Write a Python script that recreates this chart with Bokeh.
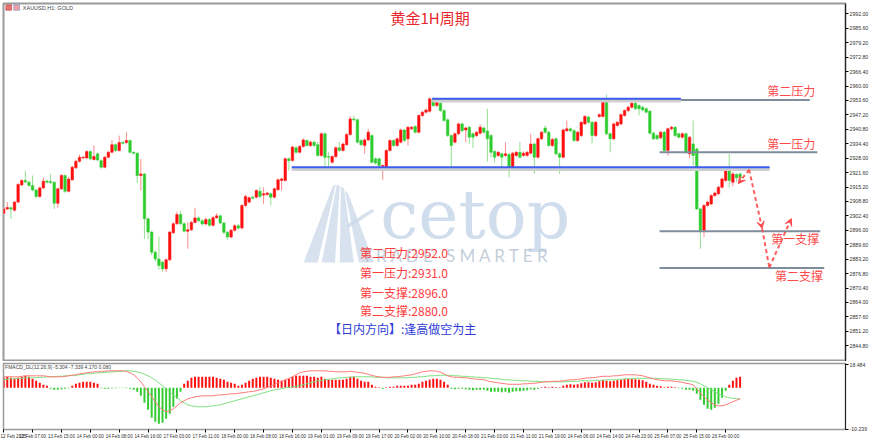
from bokeh.plotting import figure
from bokeh.layouts import column
from bokeh.models import (ColumnDataSource, FixedTicker, Range1d, Label, Arrow,
                          VeeHead, PrintfTickFormatter)
from bokeh.embed import file_html
from bokeh.resources import INLINE

# ---------------- data (XAUUSD H1) ----------------
opens = [2903.6,2905.5,2906.0,2904.9,2908.5,2916.1,2918.1,2917.3,2915.9,2913.9,
2911.0,2914.8,2917.8,2917.6,2917.3,2908.0,2914.4,2920.3,2913.3,2918.4,
2923.7,2926.6,2928.1,2928.1,2930.9,2927.4,2929.9,2926.9,2924.0,2928.4,
2930.6,2934.0,2931.4,2934.9,2934.9,2935.8,2930.6,2930.2,2920.3,2921.0,
2901.1,2895.2,2886.3,2883.3,2881.8,2878.9,2882.9,2894.9,2898.9,2903.0,
2898.9,2895.6,2896.2,2899.5,2901.5,2900.2,2898.8,2900.8,2898.2,2901.6,
2902.4,2899.2,2895.1,2893.0,2896.0,2898.0,2897.0,2907.0,2908.5,2910.7,
2910.7,2913.3,2911.6,2911.9,2912.2,2910.7,2914.0,2918.1,2918.1,2927.7,
2927.0,2932.6,2930.6,2933.2,2935.8,2933.6,2935.1,2934.0,2929.2,2938.8,
2928.7,2926.2,2928.7,2932.6,2931.4,2934.0,2938.5,2945.4,2945.0,2935.8,
2933.6,2936.1,2938.0,2927.7,2927.7,2924.0,2923.7,2931.4,2935.8,2933.6,
2935.1,2940.5,2936.6,2941.0,2942.0,2939.5,2946.9,2948.4,2948.8,2954.3,
2951.3,2952.4,2949.1,2945.0,2938.0,2935.1,2938.8,2943.2,2940.5,2941.7,
2938.8,2938.0,2939.1,2941.4,2940.0,2938.0,2931.0,2929.2,2929.9,2929.2,
2929.6,2923.3,2929.2,2930.6,2929.2,2929.2,2930.2,2934.3,2928.4,2936.6,
2941.4,2939.5,2933.6,2936.6,2929.9,2928.4,2940.2,2941.0,2940.2,2935.8,
2938.0,2943.2,2946.2,2943.9,2938.0,2946.5,2946.5,2953.8,2938.8,2936.6,
2942.5,2943.2,2946.9,2949.1,2950.6,2952.4,2951.3,2950.6,2949.9,2948.8,
2939.1,2938.0,2937.0,2939.5,2931.4,2941.0,2941.7,2938.8,2937.3,2938.8,
2929.9,2934.3,2932.1,2905.5,2895.9,2907.0,2907.7,2911.4,2912.2,2915.1,
2918.1,2923.7,2917.3,2920.7,2921.0]
highs = [2906.3,2908.5,2906.6,2909.0,2917.0,2918.6,2922.5,2918.0,2920.3,2914.4,
2915.5,2919.5,2918.5,2921.0,2917.8,2915.0,2921.0,2920.8,2919.8,2924.6,
2927.3,2929.6,2929.0,2931.5,2931.4,2933.6,2930.5,2927.4,2929.0,2931.3,
2936.0,2934.6,2938.0,2935.5,2939.5,2936.3,2931.0,2930.6,2927.7,2921.5,
2901.6,2895.8,2887.0,2893.2,2882.5,2883.5,2895.8,2899.6,2904.3,2904.6,
2899.5,2899.5,2900.2,2906.0,2902.2,2900.9,2901.6,2901.4,2902.3,2903.6,
2903.0,2899.8,2895.7,2896.6,2898.7,2898.8,2907.6,2911.8,2911.0,2911.3,
2914.2,2915.3,2915.1,2913.1,2912.8,2915.0,2919.0,2919.4,2928.3,2928.4,
2933.5,2933.2,2933.8,2936.8,2936.4,2935.8,2935.7,2935.2,2939.5,2939.4,
2930.6,2929.3,2933.2,2935.1,2934.9,2939.1,2946.6,2946.9,2945.6,2936.4,
2936.8,2941.0,2938.6,2928.3,2928.2,2925.3,2932.0,2936.4,2936.3,2937.2,
2941.1,2941.0,2942.3,2942.3,2942.6,2947.5,2949.0,2950.0,2954.9,2954.9,
2954.5,2953.0,2949.7,2945.6,2938.6,2939.4,2943.8,2943.8,2942.0,2942.3,
2939.4,2940.1,2943.0,2942.0,2949.9,2938.6,2931.6,2931.2,2930.5,2935.0,
2930.2,2930.8,2931.2,2935.1,2931.0,2931.2,2938.8,2934.9,2937.2,2940.1,
2942.5,2940.1,2937.0,2937.2,2930.5,2941.1,2944.7,2941.6,2940.8,2940.1,
2944.5,2947.1,2946.8,2944.5,2944.5,2947.9,2954.4,2956.2,2939.4,2943.8,
2944.5,2947.9,2949.7,2951.2,2953.0,2953.0,2951.9,2951.2,2950.5,2949.4,
2939.7,2938.6,2940.1,2940.1,2941.6,2942.3,2942.3,2939.4,2939.4,2939.4,
2937.9,2944.7,2932.7,2906.1,2907.6,2909.1,2912.0,2913.1,2915.7,2919.4,
2924.3,2929.9,2922.0,2921.3,2921.6]
lows = [2902.8,2904.9,2901.0,2904.3,2908.0,2915.6,2916.9,2915.3,2913.3,2910.2,
2910.4,2914.3,2916.8,2916.5,2905.5,2906.0,2913.8,2912.5,2912.8,2917.9,
2923.2,2926.0,2927.6,2927.5,2927.1,2926.9,2926.6,2923.3,2923.5,2927.9,
2930.1,2930.8,2930.9,2934.0,2934.4,2930.0,2929.6,2917.0,2913.6,2892.2,
2892.0,2885.0,2882.0,2878.5,2877.6,2877.5,2882.4,2894.4,2898.4,2898.3,
2895.0,2887.8,2895.7,2899.0,2899.6,2898.0,2898.2,2897.5,2897.6,2901.0,
2898.6,2894.4,2891.8,2892.4,2895.4,2896.2,2896.4,2906.4,2907.9,2909.7,
2910.1,2910.4,2907.7,2911.3,2907.0,2910.1,2913.5,2913.6,2917.6,2922.5,
2926.4,2930.0,2930.0,2932.6,2933.0,2933.0,2933.0,2928.6,2928.6,2923.7,
2924.0,2925.6,2928.1,2930.8,2930.8,2933.4,2938.0,2944.3,2934.5,2933.4,
2930.0,2935.5,2925.6,2925.2,2923.3,2918.4,2923.2,2930.9,2933.0,2933.0,
2934.5,2935.2,2933.6,2940.4,2938.9,2938.9,2946.3,2947.8,2948.2,2950.7,
2950.7,2948.5,2944.1,2937.4,2923.7,2934.5,2938.2,2939.6,2935.0,2934.3,
2932.5,2937.4,2938.5,2938.9,2926.5,2928.4,2926.2,2928.6,2923.3,2928.6,
2919.5,2922.7,2928.6,2927.8,2928.6,2928.6,2929.6,2921.0,2927.8,2936.0,
2938.9,2933.0,2933.0,2929.3,2921.0,2927.8,2939.6,2939.6,2935.2,2935.2,
2937.4,2942.6,2943.3,2934.5,2937.4,2945.9,2945.9,2938.2,2930.6,2936.0,
2941.9,2942.6,2946.3,2948.5,2950.0,2949.3,2947.0,2948.8,2947.8,2938.5,
2936.0,2936.0,2936.4,2930.8,2929.0,2940.4,2937.4,2936.7,2936.7,2930.0,
2928.0,2924.7,2905.0,2887.8,2893.0,2906.4,2907.1,2910.8,2911.6,2914.5,
2917.5,2915.0,2915.5,2917.5,2918.7]
closes = [2905.5,2906.1,2905.4,2908.5,2916.3,2918.1,2917.4,2915.9,2913.9,2911.0,
2914.8,2917.8,2917.3,2917.2,2908.0,2914.4,2920.3,2913.3,2918.7,2924.0,
2926.6,2928.4,2928.4,2930.9,2927.7,2928.7,2927.2,2924.0,2928.4,2930.6,
2934.0,2931.4,2934.9,2934.6,2935.8,2930.6,2930.2,2920.3,2921.0,2901.1,
2895.2,2886.3,2883.3,2880.4,2878.9,2882.9,2895.2,2898.9,2903.0,2898.9,
2895.6,2896.2,2899.5,2901.5,2900.2,2898.8,2900.8,2898.2,2901.6,2902.4,
2899.2,2895.1,2893.0,2896.0,2898.0,2897.0,2907.0,2911.0,2910.4,2910.2,
2913.6,2911.0,2912.2,2912.5,2910.7,2914.4,2918.4,2918.8,2927.7,2926.9,
2932.9,2930.6,2933.2,2936.1,2933.6,2935.1,2933.6,2929.2,2938.8,2928.4,
2928.4,2928.7,2932.6,2931.4,2934.3,2938.5,2945.4,2945.0,2935.1,2934.0,
2936.1,2939.5,2926.2,2925.8,2924.7,2924.7,2931.4,2935.8,2933.6,2936.6,
2940.5,2935.8,2941.7,2941.7,2939.5,2946.9,2948.4,2949.4,2954.3,2951.3,
2952.8,2949.1,2944.7,2938.0,2933.6,2938.8,2943.2,2940.2,2941.4,2937.3,
2937.3,2939.5,2941.7,2939.5,2936.6,2930.6,2928.4,2930.6,2928.4,2929.9,
2922.8,2930.2,2930.6,2928.4,2930.2,2930.6,2934.3,2928.4,2936.6,2939.5,
2939.5,2933.6,2936.3,2929.9,2928.4,2940.5,2941.0,2940.2,2935.8,2939.5,
2943.9,2946.5,2943.9,2938.0,2943.9,2947.3,2953.8,2938.8,2936.6,2943.2,
2943.9,2947.3,2949.1,2950.6,2952.4,2949.9,2949.9,2949.4,2948.4,2939.1,
2936.6,2936.6,2939.5,2931.4,2941.0,2941.7,2938.0,2937.3,2938.8,2930.6,
2937.3,2929.2,2905.5,2895.9,2907.0,2908.5,2911.4,2912.5,2915.1,2918.8,
2923.7,2918.1,2921.0,2919.3,2919.3]

# MACD panel values (histogram, fast line, slow line)
macd_hist = [10,11,10,9,10,11,12,11, 9,7,5,3,2, -1,-2,-2,-1.5,-1,-0.5,
2,4,5,6,6,6,5,4, -0.5,-1,-1,-0.5,-0.5,-0.3,-0.3,-0.5,-1,-2,
-4,-8,-15,-22,-30,-34,-36,-35,-31,-26,-19,-11,-4,
4,7,10,11,11,11,11,11,11,10,9,8,6,5,4,2,
3,5,7,9,10,11,11,11,10,9,8,7,8,9,11,12,12,
12,12,11,11,10,11,9,8,8,8,8,
8,9,11,11,9,7,6,6,3,1,0.5,-1,0.5,1,1,2,2,2,2,3,3,4,
6,7,8,9,9,8,6,3,
-1,-1.5,-1,-1,-1.5,-2,-2.5,-2,-2,-2,-3,-4,-4,-4,-4.5,-4,-5,-4,-3.5,-3.5,-3,-2.5,-1.5,-2,-1,0.5,1,0.5,
1,0.5,0.5,2,3,3.5,3,3.5,4.5,5.5,5.5,5,5.5,6.5,8,7,6.5,7,7.5,8,8.5,9,9,8.5,8,7.5,6,4,
3,2,1.5,0.5,1,1,0.5,-0.5,-1,-2,-2,-3,
-6,-12,-17,-21,-22,-20,-16,-10,
-3,3,7,10,11]
macd_fast = [11,11,11,11,11,11.5,12,12,12,12,
12,12,11.5,11,11,11,11,11.5,12,12.5,13,14,14.5,
15,15.5,16,16,16.5,16.5,17,17,17,17,17,16.5,15,
13,10,6,1,-4,-9,-14,-19,-22,-24,-23,-21,-18,-15,
-13,-11,-10,-9,-8.5,-8,-8,-8,-8,-7.5,-7,-7,-6.5,-6,-6,-5.5,
-5,-4.5,-4,-3.5,-3,-2,-1,0.5,2,3.5,5,6.5,8,9.5,11,13,15,
16,16.5,17,17,17,17,17,16.5,16.5,16,16,16,16,16.5,16,15.5,15,14.5,13.5,12.5,11.5,11,10.5,10.5,10.5,11,11,11.5,
12,12.5,13,14,15,16,16.5,17,17,16.5,15.5,14,12,
11,10.5,10.5,10,10,9.5,9,8.5,8.5,8,7,6,5.5,5,4.5,4,3.5,3.5,3.5,3.5,4,4,4.5,4.5,5,5.5,6,6,
6.5,6.5,6.5,7,7.5,8,8,8.5,9,9.5,10,10,10.5,11,11.5,11.5,11.5,12,12,12.5,13,13,13,13,12.5,12,11,10,
9,8,7.5,7,7,7,6.5,6,5.5,4.5,4,3,
-1,-5,-9,-12,-15,-17,-18,-18,-17,-15.5,-14,-12.5,-11]
macd_slow = [8,8.5,9,9,9.5,9.5,10,10,10,10,
10.5,10.5,11,11,11,11.5,11.5,12,12,12.5,12.5,13,13.5,
14,14,14.5,15,15,15.5,15.5,16,16,16.5,16.5,17,17,
16.5,16,15,13.5,12,10,7.5,5,2,-1,-4,-7,-10,-13,
-15,-17,-18,-18.5,-19,-19,-19,-18.5,-18,-17.5,-17,-16,-15,-14,-13,-12,
-11,-10,-9,-8,-7,-6,-5,-4,-3,-2,-1.5,-1,0,0.5,1,1.5,2,
3,4,5,6,7,7.5,8,8.5,9,9.5,10,10,10.5,10.5,11,11,11,11,11,11,10.5,10.5,10.5,10,10,10,10,10,
10,10,10.5,10.5,11,11,11.5,12,12,12.5,12.5,12.5,12.5,
12.5,12,12,11.5,11.5,11,11,10.5,10.5,10,10,9.5,9,9,8.5,8,8,7.5,7.5,7,7,7,6.5,6.5,6.5,6,6,6,
6,6,6,6,6,6.5,6.5,6.5,7,7,7,7,7.5,7.5,7.5,8,8,8,8.5,8.5,9,9,9,9.5,9.5,9.5,9.5,9.5,
9.5,9.5,9,9,9,8.5,8.5,8,8,7.5,7,6.5,
5.5,4,2,0,-2,-4,-6,-7.5,-9,-10,-10.5,-11,-11]

# axes
price_ticks = [2992.0,2985.6,2979.2,2972.8,2966.4,2960.0,2953.6,2947.2,2940.8,2934.4,
               2928.0,2921.6,2915.2,2908.8,2902.4,2896.0,2889.6,2883.2,2876.8,2870.4,
               2864.0,2857.6,2851.2,2844.8]
time_tick_bars = [1+8*k for k in range(26)]
time_labels = ["12 Feb 2025","13 Feb 07:00","13 Feb 15:00","14 Feb 00:00","14 Feb 08:00",
               "14 Feb 16:00","17 Feb 03:00","17 Feb 11:00","18 Feb 00:00","18 Feb 08:00",
               "18 Feb 16:00","19 Feb 01:00","19 Feb 09:00","19 Feb 17:00","20 Feb 02:00",
               "20 Feb 10:00","20 Feb 18:00","21 Feb 03:00","21 Feb 11:00","21 Feb 19:00",
               "24 Feb 06:00","24 Feb 14:00","24 Feb 23:00","25 Feb 07:00","25 Feb 15:00",
               "26 Feb 00:00"]
macd_tick_pos = [23.3, -41.3]
macd_tick_labels = ["18.484", "-10.239"]

# drawn levels (price, from bar, to bar)
gray_levels = [2953.8, 2930.6, 2895.6, 2879.3]
gray_x0 = [119.7, 182.7, 182.7, 182.7]
gray_x1 = [224.3, 226.4, 227.2, 228.3]
blue_levels = [2954.3, 2924.0]
blue_x0 = [119.7, 80.8]
blue_x1 = [188.6, 213.2]
level_names = ["第二压力", "第一压力", "第一支撑", "第二支撑"]
level_label_x = [212.5, 212.5, 213.6, 214.7]
level_label_y = [2958.0, 2934.6, 2892.3, 2876.0]

# forecast path (bar, price)
path_x = [204.5, 207.5, 211.1, 213.1, 219.2]
path_y = [2916.7, 2922.9, 2896.8, 2879.5, 2901.2]

summary_lines = ["第二压力:2952.0", "第一压力:2931.0", "第一支撑:2896.0", "第二支撑:2880.0"]
summary_y = [2886.1, 2877.4, 2868.5, 2860.4]
direction_text = "【日内方向】:逢高做空为主"

RED = "#ff1010"
GREEN = "#2fcc2f"
FONT_CJK = "Noto Sans CJK SC"
NB = "\u00a0"

n = len(closes)
xs = list(range(1, n + 1))
is_up = [c >= o for o, c in zip(opens, closes)]
src = ColumnDataSource(dict(
    x=xs,
    top=[max(o, c) for o, c in zip(opens, closes)],
    bottom=[min(o, c) for o, c in zip(opens, closes)],
    high=highs, low=lows,
    color=[RED if u else GREEN for u in is_up],
    wick=["#ff8c8c" if u else "#92e092" for u in is_up],
))

xr = Range1d(0.95, 234.2)

p = figure(frame_width=842, frame_height=358, x_range=xr, y_range=Range1d(2837.8, 2996.6),
           output_backend="svg", toolbar_location=None, y_axis_location="right",
           x_axis_location=None, min_border_left=3, min_border_top=3,
           min_border_bottom=0, min_border_right=0)
p.grid.visible = False
p.outline_line_color = "#9a9a9a"
p.outline_line_width = 2
p.background_fill_color = "white"
ya = p.yaxis[0]
ya.ticker = FixedTicker(ticks=price_ticks)
ya.formatter = PrintfTickFormatter(format="%.2f")
ya.major_label_text_font_size = "5.2px"
ya.major_label_text_font = "Liberation Sans"
ya.major_label_text_color = "#333333"
ya.major_tick_out = 3
ya.major_tick_in = 0
ya.minor_tick_out = 0
ya.minor_tick_in = 0
ya.axis_line_color = "#222222"
ya.major_label_standoff = 1

# watermark logo stripes (decorative)
logo_xs = [[92.2, 93.0, 88.0, 84.1], [93.3, 94.1, 92.8, 89.1],
           [94.4, 95.3, 98.0, 94.1], [95.5, 96.4, 103.6, 99.4],
           [96.0, 103.0, 103.8, 96.6]]
logo_ys = [[2915.8, 2916.3, 2881.7, 2881.7], [2916.3, 2915.8, 2881.7, 2881.7],
           [2915.4, 2914.5, 2881.7, 2881.7], [2913.6, 2912.3, 2881.7, 2881.7],
           [2898.5, 2905.5, 2904.5, 2897.0]]
p.patches(logo_xs, logo_ys, fill_color="#c9d8e8", line_color=None, fill_alpha=0.75)
p.add_layout(Label(x=105.3, y=2903.0, text="cetop", text_font="DejaVu Serif",
                   text_font_size="68px", text_color="#c4d5e9", text_alpha=0.8,
                   text_baseline="middle"))
p.add_layout(Label(x=100.3, y=2884.8, text=NB.join("TRADE") + NB * 3 + NB.join("SMARTER"),
                   text_font="Lato", text_font_size="17px", text_color="#b8c5d3",
                   text_alpha=0.85, text_baseline="middle"))

# candles
p.segment(x0="x", y0="low", x1="x", y1="high", source=src, line_color="wick", line_width=1)
p.vbar(x="x", width=0.7, top="top", bottom="bottom", source=src,
       fill_color="color", line_color="color", line_width=0.5)

# level lines
p.segment(x0=gray_x0, y0=gray_levels, x1=gray_x1, y1=gray_levels,
          line_color="#7f8c9c", line_width=2)
p.segment(x0=blue_x0, y0=[v - 1.0 for v in blue_levels], x1=blue_x1,
          y1=[v - 1.0 for v in blue_levels], line_color="#cfcfcf", line_width=3)
p.segment(x0=blue_x0, y0=blue_levels, x1=blue_x1, y1=blue_levels,
          line_color="#3f5cf0", line_width=2)

for name, lx, ly in zip(level_names, level_label_x, level_label_y):
    p.add_layout(Label(x=lx, y=ly, text=name, text_font=FONT_CJK, text_font_size="12px",
                       text_color="#ff4a4a", text_baseline="middle"))

# forecast arrows
dash_col = "#ff4d4d"
segs = [(1, 0, True), (1, 2, True), (2, 3, False), (3, 4, True)]
for a, b, head in segs:
    kw = dict(end=VeeHead(size=7, fill_color=dash_col, line_color=dash_col)) if head else dict(end=None)
    p.add_layout(Arrow(x_start=path_x[a], y_start=path_y[a], x_end=path_x[b], y_end=path_y[b],
                       line_color=dash_col, line_width=2, line_dash="4 3", line_alpha=0.9, **kw))

# title and notes
p.add_layout(Label(x=119.1, y=2990.4, text="黄金1H周期", text_font=FONT_CJK,
                   text_font_size="15px", text_color="#e8262b", text_align="center",
                   text_baseline="middle"))
for t, ty in zip(summary_lines, summary_y):
    p.add_layout(Label(x=99.7, y=ty, text=t, text_font=FONT_CJK, text_font_size="12px",
                       text_color="#ff3b3b", text_baseline="middle"))
p.add_layout(Label(x=91.1, y=2852.6, text=direction_text, text_font=FONT_CJK,
                   text_font_size="12px", text_color="#2e3bd6", text_baseline="middle"))

# chart header (symbol)
p.add_layout(Label(x=6.3, y=2994.8, text="XAUUSD,H1:  GOLD", text_font="Liberation Sans",
                   text_font_size="5.5px", text_color="#444444", text_baseline="middle"))
p.rect(x=[2.4, 4.6], y=[2994.8, 2994.8], width=1.6, height=2.4,
       fill_color=["#e57373", "#f2a0a0"], line_color=["#c04040", "#6f8fcf"], line_width=0.6)

# ---------------- MACD panel ----------------
m = figure(frame_width=842, frame_height=66, x_range=xr, y_range=Range1d(-41.7, 24.3),
           output_backend="svg", toolbar_location=None, y_axis_location="right",
           min_border_left=3, min_border_top=2, min_border_bottom=0, min_border_right=0)
m.grid.visible = False
m.outline_line_color = "#9a9a9a"
m.outline_line_width = 1.5
mx = m.xaxis[0]
mx.ticker = FixedTicker(ticks=time_tick_bars)
mx.major_label_overrides = {t: l for t, l in zip(time_tick_bars, time_labels)}
mx.major_label_text_font_size = "4.6px"
mx.major_label_text_font = "Liberation Sans"
mx.major_label_text_align = "left"
mx.major_label_text_color = "#333333"
mx.major_tick_out = 3
mx.major_tick_in = 0
mx.minor_tick_out = 0
mx.minor_tick_in = 0
mx.axis_line_color = "#9a9a9a"
mx.major_label_standoff = 1
my = m.yaxis[0]
my.ticker = FixedTicker(ticks=macd_tick_pos)
my.major_label_overrides = {t: l for t, l in zip(macd_tick_pos, macd_tick_labels)}
my.major_label_text_font_size = "5.2px"
my.major_label_text_font = "Liberation Sans"
my.major_label_text_color = "#333333"
my.major_tick_out = 3
my.major_tick_in = 0
my.minor_tick_out = 0
my.minor_tick_in = 0
my.axis_line_color = "#222222"
my.major_label_standoff = 1

mn = len(macd_hist)
mxs = list(range(1, mn + 1))
m.vbar(x=mxs, width=0.55, top=macd_hist, bottom=0,
       fill_color=[RED if v >= 0 else "#33cc33" for v in macd_hist],
       line_color=None)
m.line(list(range(1, len(macd_slow) + 1)), macd_slow, line_color="#7ee07e", line_width=1)
m.line(list(range(1, len(macd_fast) + 1)), macd_fast, line_color="#ff7a7a", line_width=1)
m.add_layout(Label(x=1.4, y=21.0, text="FMACD_DL(12,26,9) -5.304 -7.339 4.170 0.080",
                   text_font="Liberation Sans", text_font_size="5px", text_color="#444444",
                   text_baseline="middle"))

layout = column(p, m, spacing=0)
open("out.html", "w").write(file_html(layout, INLINE))
